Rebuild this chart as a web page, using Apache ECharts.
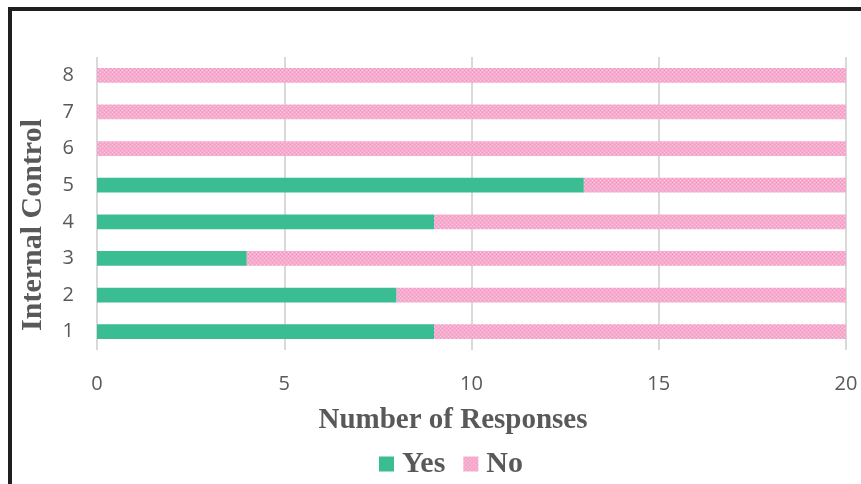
<!DOCTYPE html>
<html><head><meta charset="utf-8">
<script src="https://cdn.jsdelivr.net/npm/echarts@6/dist/echarts.min.js"></script>
<style>html,body{margin:0;padding:0;background:#fff}#c{width:861px;height:484px}</style>
</head><body><div id="c"></div>
<script>
const categories = ['1','2','3','4','5','6','7','8'];
const yesValues = [9, 8, 4, 9, 13, 0, 0, 0];
const noValues = [11, 12, 16, 11, 7, 20, 20, 20];
const xTicks = [0, 5, 10, 15, 20];
const xTitle = 'Number of Responses';
const yTitle = 'Internal Control';

function makePattern(){
  const c = document.createElement('canvas');
  c.width = 4; c.height = 4;
  const g = c.getContext('2d');
  g.fillStyle = '#F6AACD'; g.fillRect(0,0,4,4);
  g.fillStyle = '#FACBE0'; g.fillRect(0,0,1,1); g.fillRect(2,2,1,1);
  g.fillStyle = '#F29CC2'; g.fillRect(2,0,1,1); g.fillRect(0,2,1,1);
  return {image: c, repeat: 'repeat'};
}
const pinkPattern = makePattern();
const titleFont = {fontFamily: 'Liberation Serif', fontWeight: 'bold', fontSize: 29, fill: '#595959'};

const chart = echarts.init(document.getElementById('c'));
chart.setOption({
  animation: false,
  backgroundColor: '#fff',
  grid: {left: 97, right: 15, top: 57, bottom: 134},
  xAxis: {
    type: 'value', min: 0, max: 20, interval: 5,
    axisLine: {show: false}, axisTick: {show: false},
    axisLabel: {color: '#595959', fontSize: 20, fontFamily: 'Open Sans', margin: 24,
      formatter: v => xTicks.includes(v) ? String(v) : ''},
    splitLine: {lineStyle: {color: '#D9D9D9', width: 2}}
  },
  yAxis: {
    type: 'category', data: categories,
    axisLine: {show: false}, axisTick: {show: false},
    axisLabel: {color: '#595959', fontSize: 20, fontFamily: 'Open Sans', margin: 23}
  },
  legend: {
    bottom: 0, left: 374, itemWidth: 15, itemHeight: 15, itemGap: 18,
    textStyle: {fontFamily: 'Liberation Serif', fontWeight: 'bold', fontSize: 30, color: '#595959', padding: [0,0,0,3]},
    data: [{name: 'Yes', icon: 'rect'}, {name: 'No', icon: 'rect'}]
  },
  series: [
    {name: 'Yes', type: 'bar', stack: 's', data: yesValues, barCategoryGap: '60%',
      itemStyle: {color: '#3BBD93'}},
    {name: 'No', type: 'bar', stack: 's', data: noValues, barCategoryGap: '60%',
      itemStyle: {color: pinkPattern}}
  ],
  graphic: [
    {type: 'text', x: 453, y: 421,
      style: Object.assign({text: xTitle, align: 'center', verticalAlign: 'middle'}, titleFont)},
    {type: 'text', x: 33, y: 225, rotation: Math.PI / 2,
      style: Object.assign({text: yTitle, align: 'center', verticalAlign: 'middle'}, titleFont, {fontSize: 30})},
    {type: 'rect', shape: {x: 10, y: 9, width: 900, height: 520},
      style: {fill: 'none', stroke: '#1F1F1F', lineWidth: 4}, z: 100}
  ]
});
</script></body></html>
